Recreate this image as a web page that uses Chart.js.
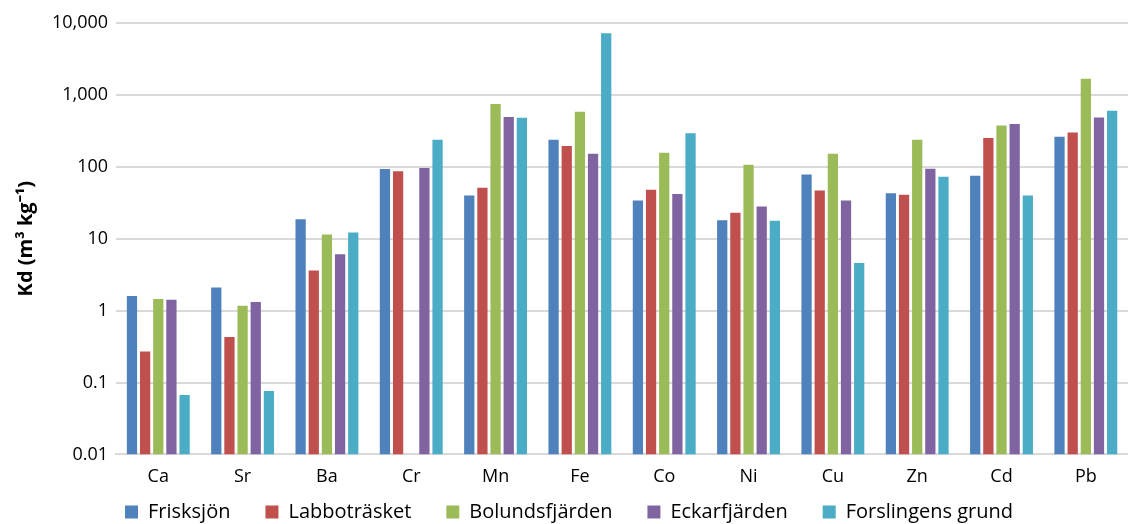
<!DOCTYPE html>
<html>
<head>
<meta charset="utf-8">
<script src="https://cdn.jsdelivr.net/npm/chart.js@4/dist/chart.umd.min.js"></script>
<style>
  body { margin: 0; background: #fff; }
  #wrap { width: 1128px; height: 524px; }
</style>
</head>
<body>
<div id="wrap"><canvas id="kd-chart"></canvas></div>
<script>
// Elements on the x axis
const elements = ['Ca', 'Sr', 'Ba', 'Cr', 'Mn', 'Fe', 'Co', 'Ni', 'Cu', 'Zn', 'Cd', 'Pb'];

// Kd values per site (m3 kg-1)
const frisksjon      = [1.6, 2.1, 18.7, 93, 40, 238, 34, 18, 78, 43, 75, 262];
const labbotrasket   = [0.27, 0.43, 3.6, 87, 51, 194, 48, 23, 47, 41, 251, 301];
const bolundsfjarden = [1.45, 1.17, 11.4, null, 745, 583, 157, 107, 152, 238, 376, 1680];
const eckarfjarden   = [1.42, 1.32, 6.1, 96, 491, 152, 42, 28, 34, 94, 393, 486];
const forslingens    = [0.067, 0.076, 12.2, 238, 481, 7180, 294, 17.7, 4.6, 73, 40, 602];

const siteNames = ['Frisksjön', 'Labbotr\u00e4sket', 'Bolundsfj\u00e4rden', 'Eckarfj\u00e4rden', 'Forslingens grund'];
const siteColors = ['#4F81BD', '#C0504D', '#9BBB59', '#8064A2', '#4BACC6'];

// Tick labels on the log axis
const yTicks = [0.01, 0.1, 1, 10, 100, 1000, 10000];
const yTickLabels = ['0.01', '0.1', '1', '10', '100', '1,000', '10,000'];

const series = [frisksjon, labbotrasket, bolundsfjarden, eckarfjarden, forslingens];
const font = '"Open Sans", "Liberation Sans", sans-serif';

// the legend keeps wide gaps between entries but sits close under the axis
const legendNudge = {
    id: 'legendNudge',
    afterLayout: function(chart) {
        const lg = chart.legend;
        lg.top = 467;
        lg.bottom = chart.height;
    }
};

const ctx = document.getElementById('kd-chart').getContext('2d');
new Chart(ctx, {
    type: 'bar',
    data: {
        labels: elements,
        datasets: series.map(function(values, i) {
            return {
                label: siteNames[i],
                data: values,
                backgroundColor: siteColors[i],
                borderWidth: 0,
                barPercentage: 0.78,
                categoryPercentage: 0.78
            };
        })
    },
    options: {
        responsive: true,
        maintainAspectRatio: false,
        animation: false,
        layout: { padding: { top: 23, right: 0, left: 10, bottom: 0 } },
        plugins: {
            tooltip: { enabled: false },
            legend: {
                position: 'bottom',
                maxHeight: 32,
                labels: {
                    boxWidth: 13,
                    boxHeight: 13,
                    padding: 35,
                    color: '#000',
                    font: { family: font, size: 20 }
                }
            }
        },
        scales: {
            x: {
                grid: { display: false },
                border: { display: true, color: '#D9D9D9', width: 2 },
                ticks: { color: '#000', padding: 4, font: { family: font, size: 18 } }
            },
            y: {
                type: 'logarithmic',
                min: 0.01,
                max: 10000,
                afterBuildTicks: function(axis) {
                    axis.ticks = yTicks.map(function(v) { return { value: v }; });
                },
                ticks: {
                    color: '#000',
                    padding: 8,
                    font: { family: font, size: 18 },
                    callback: function(value) {
                        const idx = yTicks.indexOf(value);
                        return idx >= 0 ? yTickLabels[idx] : '';
                    }
                },
                grid: { color: '#D9D9D9', lineWidth: 2, drawTicks: false },
                border: { display: false },
                title: {
                    display: true,
                    text: 'Kd (m\u00b3 kg\u207b\u00b9)',
                    color: '#000',
                    font: { family: font, size: 20, weight: 'bold' },
                    padding: { bottom: 6 }
                }
            }
        }
    },
    plugins: [legendNudge]
});
</script>
</body>
</html>
